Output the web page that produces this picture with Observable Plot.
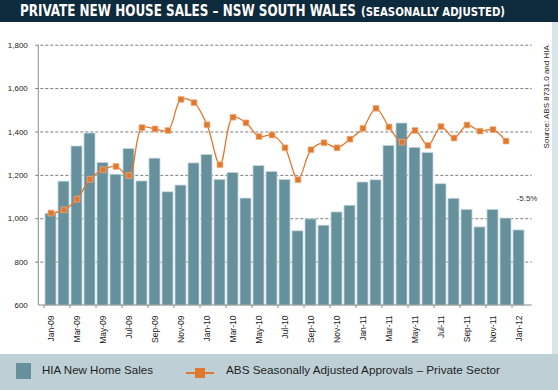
<!DOCTYPE html>
<html>
<head>
<meta charset="utf-8">
<script src="https://cdn.jsdelivr.net/npm/d3@7"></script>
<script src="https://cdn.jsdelivr.net/npm/@observablehq/plot@0.6"></script>
<style>
  html, body { margin: 0; padding: 0; }
  body { width: 558px; height: 390px; position: relative; overflow: hidden; background: #fff; font-family: "Liberation Sans", Arial, sans-serif; }
  #title { position: absolute; left: 0; top: 0; width: 558px; height: 22px; background: #0e2a3d; }
  #title span { position: absolute; white-space: nowrap; color: #fff; font-family: "DejaVu Sans Condensed", "Liberation Sans Narrow", sans-serif; font-weight: bold; transform-origin: 0 0; }
  #chart { position: absolute; left: 0; top: 22px; }
  #strip { position: absolute; left: 552px; top: 22px; width: 6px; height: 332px; background: #d8e4e7; }
  #legend { position: absolute; left: 0; top: 354px; width: 558px; height: 36px; background: #bed0d6; }
  #legend span.t { position: absolute; white-space: nowrap; font-size: 11.5px; color: #1e1e1e; transform-origin: 0 50%; }
</style>
</head>
<body>
<div id="title">
  <span id="t1" style="left:20px; top:2px; font-size:16px; line-height:18px;">PRIVATE NEW HOUSE SALES – NSW SOUTH WALES</span>
  <span id="t2" style="left:361px; top:5px; font-size:12px; line-height:15px;">(SEASONALLY ADJUSTED)</span>
</div>
<div id="chart"></div>
<div id="strip"></div>
<div id="legend">
  <div style="position:absolute; left:16px; top:9px; width:15px; height:16px; background:#66909b;"></div>
  <span class="t" id="l1" style="left:42px; top:10px;">HIA New Home Sales</span>
  <div style="position:absolute; left:186px; top:18px; width:28px; height:2px; background:#e0782f;"></div>
  <div style="position:absolute; left:195px; top:14px; width:10px; height:10px; background:#e0782f;"></div>
  <span class="t" id="l2" style="left:226px; top:10px;">ABS Seasonally Adjusted Approvals – Private Sector</span>
</div>
<script>
const months = ["Jan-09","Feb-09","Mar-09","Apr-09","May-09","Jun-09","Jul-09","Aug-09","Sep-09","Oct-09","Nov-09","Dec-09",
  "Jan-10","Feb-10","Mar-10","Apr-10","May-10","Jun-10","Jul-10","Aug-10","Sep-10","Oct-10","Nov-10","Dec-10",
  "Jan-11","Feb-11","Mar-11","Apr-11","May-11","Jun-11","Jul-11","Aug-11","Sep-11","Oct-11","Nov-11","Dec-11",
  "Jan-12"];
const hiaSales = [1023,1171,1333,1393,1257,1203,1321,1172,1277,1122,1153,1255,
  1294,1179,1211,1093,1243,1216,1179,942,997,968,1029,1060,
  1167,1177,1336,1439,1327,1303,1159,1092,1041,960,1041,1001,
  946];
const absApprovals = [1026,1041,1090,1182,1226,1241,1199,1420,1414,1407,1550,1535,
  1433,1249,1468,1442,1379,1386,1327,1180,1318,1350,1327,1367,
  1417,1509,1423,1353,1407,1338,1425,1372,1432,1404,1411,1358,
  null];
const xTickLabels = ["Jan-09","Mar-09","May-09","Jul-09","Sep-09","Nov-09","Jan-10","Mar-10","May-10","Jul-10","Sep-10","Nov-10",
  "Jan-11","Mar-11","May-11","Jul-11","Sep-11","Nov-11","Jan-12"];
const yTicks = [600,800,1000,1200,1400,1600,1800];
const annotation = [{m: "Jan-12", v: 1093, label: "-5.5%"}];
const sourceNote = ["Source: ABS 8731.0 and HIA"];

const rows = months.map((m, i) => ({m, sales: hiaSales[i], approvals: absApprovals[i]}));
const lineRows = rows.filter(d => d.approvals != null);

const BAR = "#66909b", ORANGE = "#e0782f";

// axis line at left and bottom plus ticks at band boundaries
function frameLines(index, scales, values, dims) {
  const x = scales.x, y = scales.y;
  const bw = x.bandwidth ? x.bandwidth() : 0;
  const g = d3.create("svg:g");
  const left = dims.marginLeft, right = dims.width - dims.marginRight;
  const y0 = y(600), yTop = y(1800);
  g.append("line").attr("x1", left).attr("x2", left).attr("y1", yTop).attr("y2", y0).attr("stroke", "#8a8a8a");
  g.append("line").attr("x1", left).attr("x2", right).attr("y1", y0).attr("y2", y0).attr("stroke", "#8a8a8a");
  const pos = months.map(m => x(m));
  const step = pos[1] - pos[0];
  const gap = step - bw;
  for (let i = 0; i < months.length; i += 2) {
    const bx = pos[i] - gap / 2;
    g.append("line").attr("x1", bx).attr("x2", bx).attr("y1", y0).attr("y2", y0 + 3).attr("stroke", "#8a8a8a");
  }
  return g.node();
}

const chart = Plot.plot({
  width: 558,
  height: 332,
  marginTop: 22.7,
  marginBottom: 49,
  marginLeft: 38.3,
  marginRight: 26.3,
  style: {fontFamily: "'Liberation Sans', Arial, sans-serif", fontSize: "8px", color: "#222", background: "transparent", overflow: "visible"},
  x: {type: "band", domain: months, paddingInner: 0.14, paddingOuter: 0.07, axis: null},
  y: {domain: [600, 1800], axis: null},
  marks: [
    Plot.ruleY(yTicks.filter(t => t > 600), {stroke: "#7a7a7a", strokeDasharray: "3,2", strokeWidth: 1, insetLeft: -3}),
    Plot.barY(rows, {x: "m", y1: 600, y2: "sales", fill: BAR, stroke: "#c6d8dc", strokeWidth: 0.8}),
    frameLines,
    Plot.axisY({ticks: yTicks, tickFormat: d3.format(","), tickSize: 0, tickPadding: 11, fontSize: 8, fill: "#222", label: null}),
    Plot.axisX({ticks: xTickLabels, tickSize: 0, tickPadding: 10, tickRotate: -90, fontSize: 8.5, fill: "#222", label: null}),
    Plot.line(lineRows, {x: "m", y: "approvals", curve: "catmull-rom", stroke: ORANGE, strokeWidth: 1.3}),
    Plot.dot(lineRows, {x: "m", y: "approvals", symbol: "square", r: 3.3, fill: ORANGE, stroke: "#f2b27f", strokeWidth: 0.7}),
    Plot.text(annotation, {x: "m", y: "v", text: "label", dx: 8, fontSize: 8, fill: "#333"}),
    Plot.text(sourceNote, {text: d => d, frameAnchor: "top-right", rotate: -90, textAnchor: "end", dx: 11.5, fontSize: 8, fill: "#222"})
  ]
});
document.getElementById("chart").appendChild(chart);

function fit(id, target) {
  const el = document.getElementById(id);
  const w = el.getBoundingClientRect().width;
  if (w > 0) el.style.transform = `scaleX(${target / w})`;
}
fit("t1", 336);
fit("t2", 144);
fit("l1", 111);
fit("l2", 274);
</script>
</body>
</html>
